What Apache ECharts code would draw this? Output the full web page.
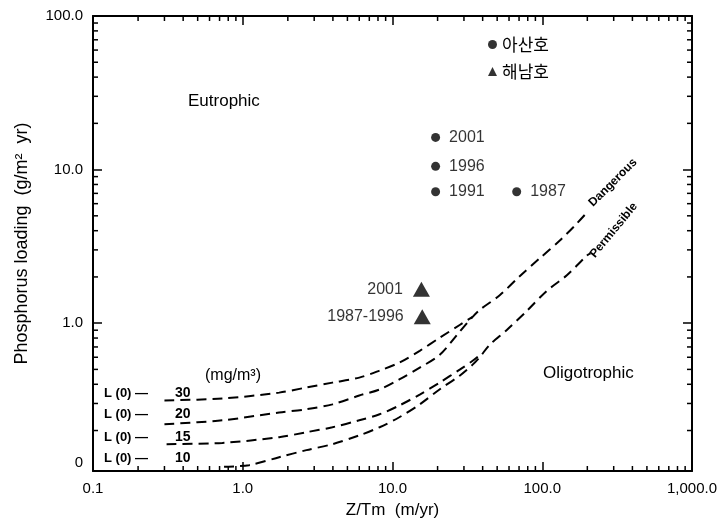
<!DOCTYPE html>
<html>
<head>
<meta charset="utf-8">
<script src="https://cdn.jsdelivr.net/npm/echarts@6/dist/echarts.min.js"></script>
<style>
  html, body { margin: 0; background: #fff; }
  #chart { width: 722px; height: 524px; }
</style>
</head>
<body>
<div id="chart"></div>
<script>
// L(0) curves as [Z/Tm, loading]
const curve30 = [[0.30, 0.314], [0.73, 0.323], [1.75, 0.353], [2.66, 0.381], [3.97, 0.41], [6.0, 0.442], [8.2, 0.491], [11.1, 0.553], [15.2, 0.661], [20.6, 0.802], [28.1, 0.973], [34.3, 1.10]];
const curve20 = [[0.30, 0.220], [0.73, 0.233], [1.75, 0.262], [2.66, 0.275], [3.97, 0.296], [6.0, 0.338], [8.2, 0.370], [11.1, 0.430], [15.2, 0.513], [20.6, 0.62], [28.1, 0.88], [34.3, 1.10], [38.2, 1.22], [52, 1.52], [70.7, 2.02], [96, 2.64], [131, 3.45], [170, 4.45], [201, 5.32]];
const curve15 = [[0.31, 0.163], [0.73, 0.166], [1.75, 0.181], [2.66, 0.195], [3.97, 0.210], [6.0, 0.233], [8.2, 0.255], [11.1, 0.291], [15.2, 0.343], [20.6, 0.41], [28.1, 0.498], [34.3, 0.569], [38.2, 0.62]];
const curve10 = [[0.75, 0.116], [1.10, 0.119], [1.75, 0.134], [2.66, 0.149], [3.97, 0.163], [6.0, 0.186], [8.2, 0.210], [11.1, 0.244], [15.2, 0.296], [20.6, 0.370], [28.1, 0.455], [34.3, 0.537], [38.2, 0.6], [44.5, 0.722], [58, 0.903], [78.8, 1.20], [107, 1.62], [146, 2.05], [199, 2.76], [210, 2.85]];
const lValues = ['30', '20', '15', '10'];

// lakes
const asan = [[19.4, 16.2], [19.4, 10.5], [19.4, 7.17], [67.5, 7.17]];
const asanYears = ['2001', '1996', '1991', '1987'];
const haenam = [[15.6, 1.66], [15.8, 1.10]];
const haenamYears = ['2001', '1987-1996'];

// axes
const xMin = 0.1, xMax = 1000;
const yMin = 0.109, yMax = 100;
const xTicks = [0.1, 1, 10, 100, 1000];
const xTickLabels = ['0.1', '1.0', '10.0', '100.0', '1,000.0'];
const yTicks = [1, 10, 100];
const yTickLabels = ['1.0', '10.0', '100.0'];
const minorSteps = [2, 3, 4, 5, 6, 7, 8, 9];
const xDecades = [0.1, 1, 10, 100];
const yDecades = [0.1, 1, 10];

const xMinor = [];
xDecades.forEach(d => minorSteps.forEach(m => xMinor.push(+(d * m).toPrecision(3))));
const yMinor = [];
yDecades.forEach(d => minorSteps.forEach(m => {
  const v = +(d * m).toPrecision(3);
  if (v > yMin) yMinor.push(v);
}));

const font = 'Liberation Sans, Arial, sans-serif';
const kfont = 'Noto Sans CJK KR, sans-serif';

function pick(list, labels, v) {
  const i = list.findIndex(t => Math.abs(t - v) < t * 1e-4);
  return i >= 0 ? labels[i] : null;
}

function dashed(name, data) {
  return {
    name: name, type: 'line', data: data, smooth: 0.3,
    symbol: 'none', silent: true,
    lineStyle: { color: '#000', width: 2, type: [10, 6] }
  };
}

function tickLine(x1, y1, x2, y2) {
  return { type: 'line', shape: { x1: x1, y1: y1, x2: x2, y2: y2 }, style: { stroke: '#000', lineWidth: 1.5 } };
}

function note(x, y, text, f, extra) {
  return Object.assign({ type: 'text', x: x, y: y, style: { text: text, font: f, fill: '#000', textVerticalAlign: 'middle' } }, extra || {});
}

const axisCommon = {
  axisLine: { lineStyle: { color: '#000', width: 2 } },
  axisTick: { inside: true, length: 9, lineStyle: { color: '#000', width: 1.5 } },
  splitLine: { show: false }
};

const myChart = echarts.init(document.getElementById('chart'));
myChart.setOption({
  animation: false,
  grid: { left: 93, right: 30, top: 16, bottom: 50, containLabel: false },
  legend: {
    orient: 'vertical', left: 483, top: 31, itemWidth: 9, itemHeight: 9, itemGap: 10,
    selectedMode: false,
    textStyle: { fontSize: 17, color: '#000', fontFamily: kfont },
    data: [{ name: '아산호', icon: 'circle' }, { name: '해남호', icon: 'triangle' }]
  },
  xAxis: [
    Object.assign({
      type: 'log', min: xMin, max: xMax, position: 'bottom',
      name: 'Z/Tm  (m/yr)', nameLocation: 'middle', nameGap: 31,
      nameTextStyle: { fontSize: 17, color: '#000', fontFamily: font },
      axisLabel: {
        margin: 10, fontSize: 15, color: '#000', fontFamily: font,
        formatter: v => pick(xTicks, xTickLabels, v) || ''
      }
    }, axisCommon),
    Object.assign({
      type: 'log', min: xMin, max: xMax, position: 'top', axisLabel: { show: false }
    }, axisCommon)
  ],
  yAxis: [
    Object.assign({
      type: 'log', min: yMin, max: yMax, position: 'left',
      name: 'Phosphorus loading  (g/m²  yr)', nameLocation: 'middle', nameGap: 62,
      nameTextStyle: { fontSize: 18, color: '#000', fontFamily: font },
      axisLabel: {
        margin: 10, fontSize: 15, color: '#000', fontFamily: font,
        formatter: v => pick(yTicks, yTickLabels, v) || '{z|0}',
        rich: { z: { fontSize: 15, color: '#000', fontFamily: font, padding: [0, 0, 16, 0] } }
      }
    }, axisCommon),
    Object.assign({
      type: 'log', min: yMin, max: yMax, position: 'right', axisLabel: { show: false }
    }, axisCommon)
  ],
  series: [
    dashed('L30', curve30),
    dashed('L20', curve20),
    dashed('L15', curve15),
    dashed('L10', curve10),
    {
      name: '아산호', type: 'scatter', data: asan, symbol: 'circle', symbolSize: 9,
      itemStyle: { color: '#000' },
      label: {
        show: true, position: 'right', distance: 9, fontSize: 16, color: '#000', fontFamily: font,
        formatter: p => asanYears[p.dataIndex]
      }
    },
    {
      name: '해남호', type: 'scatter', data: haenam, symbol: 'triangle', symbolSize: [17, 15],
      itemStyle: { color: '#000' },
      label: {
        show: true, position: 'left', distance: 10, fontSize: 16, color: '#000', fontFamily: font,
        formatter: p => haenamYears[p.dataIndex]
      }
    },
    {
      type: 'custom', silent: true, clip: false, z: 5,
      data: xMinor.map(v => [v, yMin]),
      renderItem: (params, api) => {
        const b = api.coord([api.value(0), yMin]);
        const t = api.coord([api.value(0), yMax]);
        return { type: 'group', children: [tickLine(b[0], b[1], b[0], b[1] - 5), tickLine(t[0], t[1], t[0], t[1] + 5)] };
      }
    },
    {
      type: 'custom', silent: true, clip: false, z: 5,
      data: yMinor.map(v => [xMin, v]),
      renderItem: (params, api) => {
        const l = api.coord([xMin, api.value(1)]);
        const r = api.coord([xMax, api.value(1)]);
        return { type: 'group', children: [tickLine(l[0], l[1], l[0] + 5, l[1]), tickLine(r[0], r[1], r[0] - 5, r[1])] };
      }
    }
  ],
  graphic: [
    note(188, 101, 'Eutrophic', '17px ' + font),
    note(543, 373, 'Oligotrophic', '17px ' + font),
    note(205, 376, '(mg/m³)', '16px ' + font),
    note(104, 393, 'L (0) —', 'bold 13px ' + font),
    note(104, 414, 'L (0) —', 'bold 13px ' + font),
    note(104, 437, 'L (0) —', 'bold 13px ' + font),
    note(104, 458, 'L (0) —', 'bold 13px ' + font),
    note(175, 393, lValues[0], 'bold 14px ' + font),
    note(175, 414, lValues[1], 'bold 14px ' + font),
    note(175, 437, lValues[2], 'bold 14px ' + font),
    note(175, 458, lValues[3], 'bold 14px ' + font),
    { type: 'text', x: 595, y: 209, rotation: Math.PI / 4, style: { text: 'Dangerous', font: 'bold 12px ' + font, fill: '#000', textVerticalAlign: 'bottom' } },
    { type: 'text', x: 597, y: 260, rotation: 0.88, style: { text: 'Permissible', font: 'bold 12px ' + font, fill: '#000', textVerticalAlign: 'bottom' } }
  ]
});
</script>
</body>
</html>
